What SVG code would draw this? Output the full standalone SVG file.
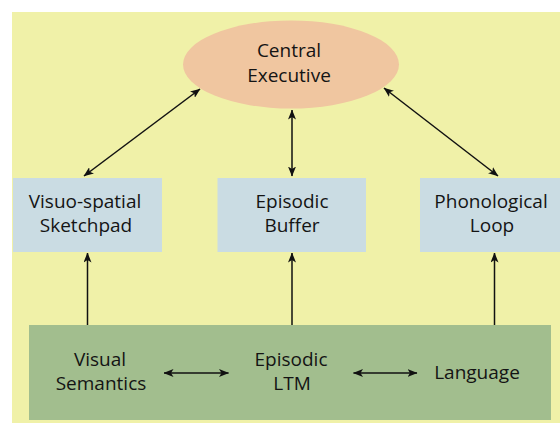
<svg xmlns="http://www.w3.org/2000/svg" width="560" height="424" viewBox="0 0 560 424">
  <defs>
    <marker id="head" viewBox="0 0 10 8" refX="9.5" refY="4" markerWidth="10" markerHeight="8" markerUnits="userSpaceOnUse" orient="auto-start-reverse">
      <path d="M0,0 L10,4 L0,8 L2.5,4 z" fill="#111"/>
    </marker>
  </defs>
  <style>
    .lbl { font-family: "Open Sans", "Noto Sans", "Liberation Sans", sans-serif; font-size: 19px; fill: #141414; text-anchor: middle; }
    .box { fill: #CADCE3; }
    .link { stroke: #111; stroke-width: 1.5; fill: none; marker-end: url(#head); }
    .both { marker-start: url(#head); }
  </style>

  <!-- background panel -->
  <rect x="12" y="12" width="548" height="411" fill="#F0F1A8"/>

  <g id="central-executive">
    <ellipse cx="291" cy="64.5" rx="108" ry="44" fill="#F0C6A0"/>
    <text class="lbl" x="289" y="57">Central</text>
    <text class="lbl" x="289" y="82">Executive</text>
  </g>

  <g id="visuo-spatial-sketchpad">
    <rect class="box" x="13" y="178" width="149" height="74"/>
    <text class="lbl" x="85" y="208">Visuo-spatial</text>
    <text class="lbl" x="86" y="232">Sketchpad</text>
  </g>

  <g id="episodic-buffer">
    <rect class="box" x="217.5" y="178" width="148.5" height="74"/>
    <text class="lbl" x="292" y="208">Episodic</text>
    <text class="lbl" x="292" y="232">Buffer</text>
  </g>

  <g id="phonological-loop">
    <rect class="box" x="420" y="178" width="140" height="74"/>
    <text class="lbl" x="491" y="208">Phonological</text>
    <text class="lbl" x="492" y="232">Loop</text>
  </g>

  <g id="long-term-memory">
    <rect x="29" y="325" width="522" height="95" fill="#A2BE8E"/>
    <g id="visual-semantics">
      <text class="lbl" x="100" y="366">Visual</text>
      <text class="lbl" x="101" y="390">Semantics</text>
    </g>
    <g id="episodic-ltm">
      <text class="lbl" x="291" y="366">Episodic</text>
      <text class="lbl" x="292" y="390">LTM</text>
    </g>
    <g id="language">
      <text class="lbl" x="477" y="379">Language</text>
    </g>
  </g>

  <g id="connectors">
    <!-- central executive to the three slave systems -->
    <line class="link both" x1="84" y1="176" x2="200" y2="89"/>
    <line class="link both" x1="292" y1="176" x2="292" y2="110"/>
    <line class="link both" x1="498" y1="176" x2="384" y2="88"/>
    <!-- long-term stores up into the slave systems -->
    <line class="link" x1="87.5" y1="325" x2="87.5" y2="253"/>
    <line class="link" x1="292" y1="325" x2="292" y2="253"/>
    <line class="link" x1="494.5" y1="325" x2="494.5" y2="253"/>
    <!-- links between long-term stores -->
    <line class="link both" x1="164" y1="373" x2="228.5" y2="373"/>
    <line class="link both" x1="353.5" y1="373" x2="417" y2="373"/>
  </g>
</svg>
